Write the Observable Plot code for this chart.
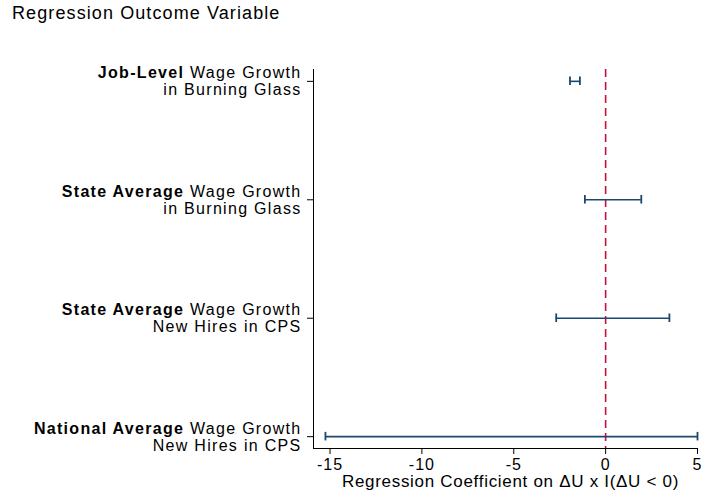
<!DOCTYPE html>
<html>
<head>
<meta charset="utf-8">
<script src="https://cdn.jsdelivr.net/npm/d3@7"></script>
<script src="https://cdn.jsdelivr.net/npm/@observablehq/plot@0.6"></script>
<style>
  body { margin: 0; background: #fff; font-family: "Liberation Sans", Arial, sans-serif; }
  #wrap { position: relative; width: 701px; height: 501px; }
  #title { position: absolute; left: 12px; top: 4px; font-size: 18px; line-height: 18px; letter-spacing: 1.1px; color: #000; white-space: nowrap; }
</style>
</head>
<body>
<div id="wrap">
  <div id="chart"></div>
  <div id="title">Regression Outcome Variable</div>
</div>
<script>
// Data
const boldParts = ["Job-Level", "State Average", "State Average", "National Average"];
const line1Rest = [" Wage Growth", " Wage Growth", " Wage Growth", " Wage Growth"];
const line2 = ["in Burning Glass", "in Burning Glass", "New Hires in CPS", "New Hires in CPS"];
const ciLow = [-1.94, -1.13, -2.69, -15.25];
const ciHigh = [-1.40, 1.94, 3.47, 5.0];
const xTicks = [-15, -10, -5, 0, 5];
const xTitle = "Regression Coefficient on \u0394U x I(\u0394U < 0)";

const rowPos = [4, 3, 2, 1]; // top to bottom
const rows = boldParts.map((b, i) => ({
  idx: rowPos[i], bold: b, rest: line1Rest[i], line2: line2[i],
  lo: ciLow[i], hi: ciHigh[i]
}));
const caps = rows.flatMap(r => [{x: r.lo, y: r.idx}, {x: r.hi, y: r.idx}]);
const capHalf = 0.036;

const navy = "#1a476f";
const red = "#c8103e";
const xDomain = [-15.9, 5];

const chart = Plot.plot({
  width: 701,
  height: 501,
  marginLeft: 313,
  marginRight: 4,
  marginTop: 69,
  marginBottom: 53,
  style: {fontFamily: "Liberation Sans, Arial, sans-serif", fontSize: "16px", color: "#000", background: "#fff"},
  x: {domain: xDomain},
  y: {domain: [0.9, 4.1]},
  marks: [
    Plot.ruleX([xDomain[0]], {stroke: "#000", strokeWidth: 1}),
    Plot.ruleY([0.9], {stroke: "#000", strokeWidth: 1}),
    Plot.ruleX([0], {stroke: red, strokeWidth: 1.6, strokeDasharray: "8,5"}),
    Plot.ruleY(rows, {y: "idx", x1: "lo", x2: "hi", stroke: navy, strokeWidth: 1.6}),
    Plot.ruleX(caps, {x: "x", y1: d => d.y - capHalf, y2: d => d.y + capHalf, stroke: navy, strokeWidth: 1.8}),
    Plot.axisX({ticks: xTicks, tickSize: 6, tickPadding: 4, fontSize: 16, label: null,
      tickFormat: d => String(d), className: "xtick"}),
    Plot.axisY({ticks: rowPos, tickSize: 6, tickFormat: () => "", label: null}),
    Plot.text([xTitle], {frameAnchor: "bottom", dx: 5, dy: 38, fontSize: 17, text: d => d, className: "xtitle"}),
    Plot.text(rows, {
      frameAnchor: "left", y: "idx", dx: -12, textAnchor: "end", lineHeight: 1.06,
      fontSize: 16, text: d => d.bold + d.rest + "\n" + d.line2, className: "ylab"
    })
  ]
});

document.getElementById("chart").appendChild(chart);

// Letter spacing to mimic the reference's text rendering
d3.select(chart).selectAll(".ylab text").style("letter-spacing", "1.3px");
d3.select(chart).selectAll(".xtick text").style("letter-spacing", "1px");
d3.select(chart).selectAll(".xtitle text").style("letter-spacing", "0.7px");

// Rich text: make first part of line 1 bold
d3.select(chart).selectAll(".ylab text").each(function(d, i) {
  const first = this.querySelector("tspan");
  const datum = rows[i];
  if (!first || !datum) return;
  first.textContent = "";
  const b = document.createElementNS("http://www.w3.org/2000/svg", "tspan");
  b.setAttribute("font-weight", "bold");
  b.textContent = datum.bold;
  const n = document.createElementNS("http://www.w3.org/2000/svg", "tspan");
  n.textContent = datum.rest;
  first.appendChild(b);
  first.appendChild(n);
});
</script>
</body>
</html>
